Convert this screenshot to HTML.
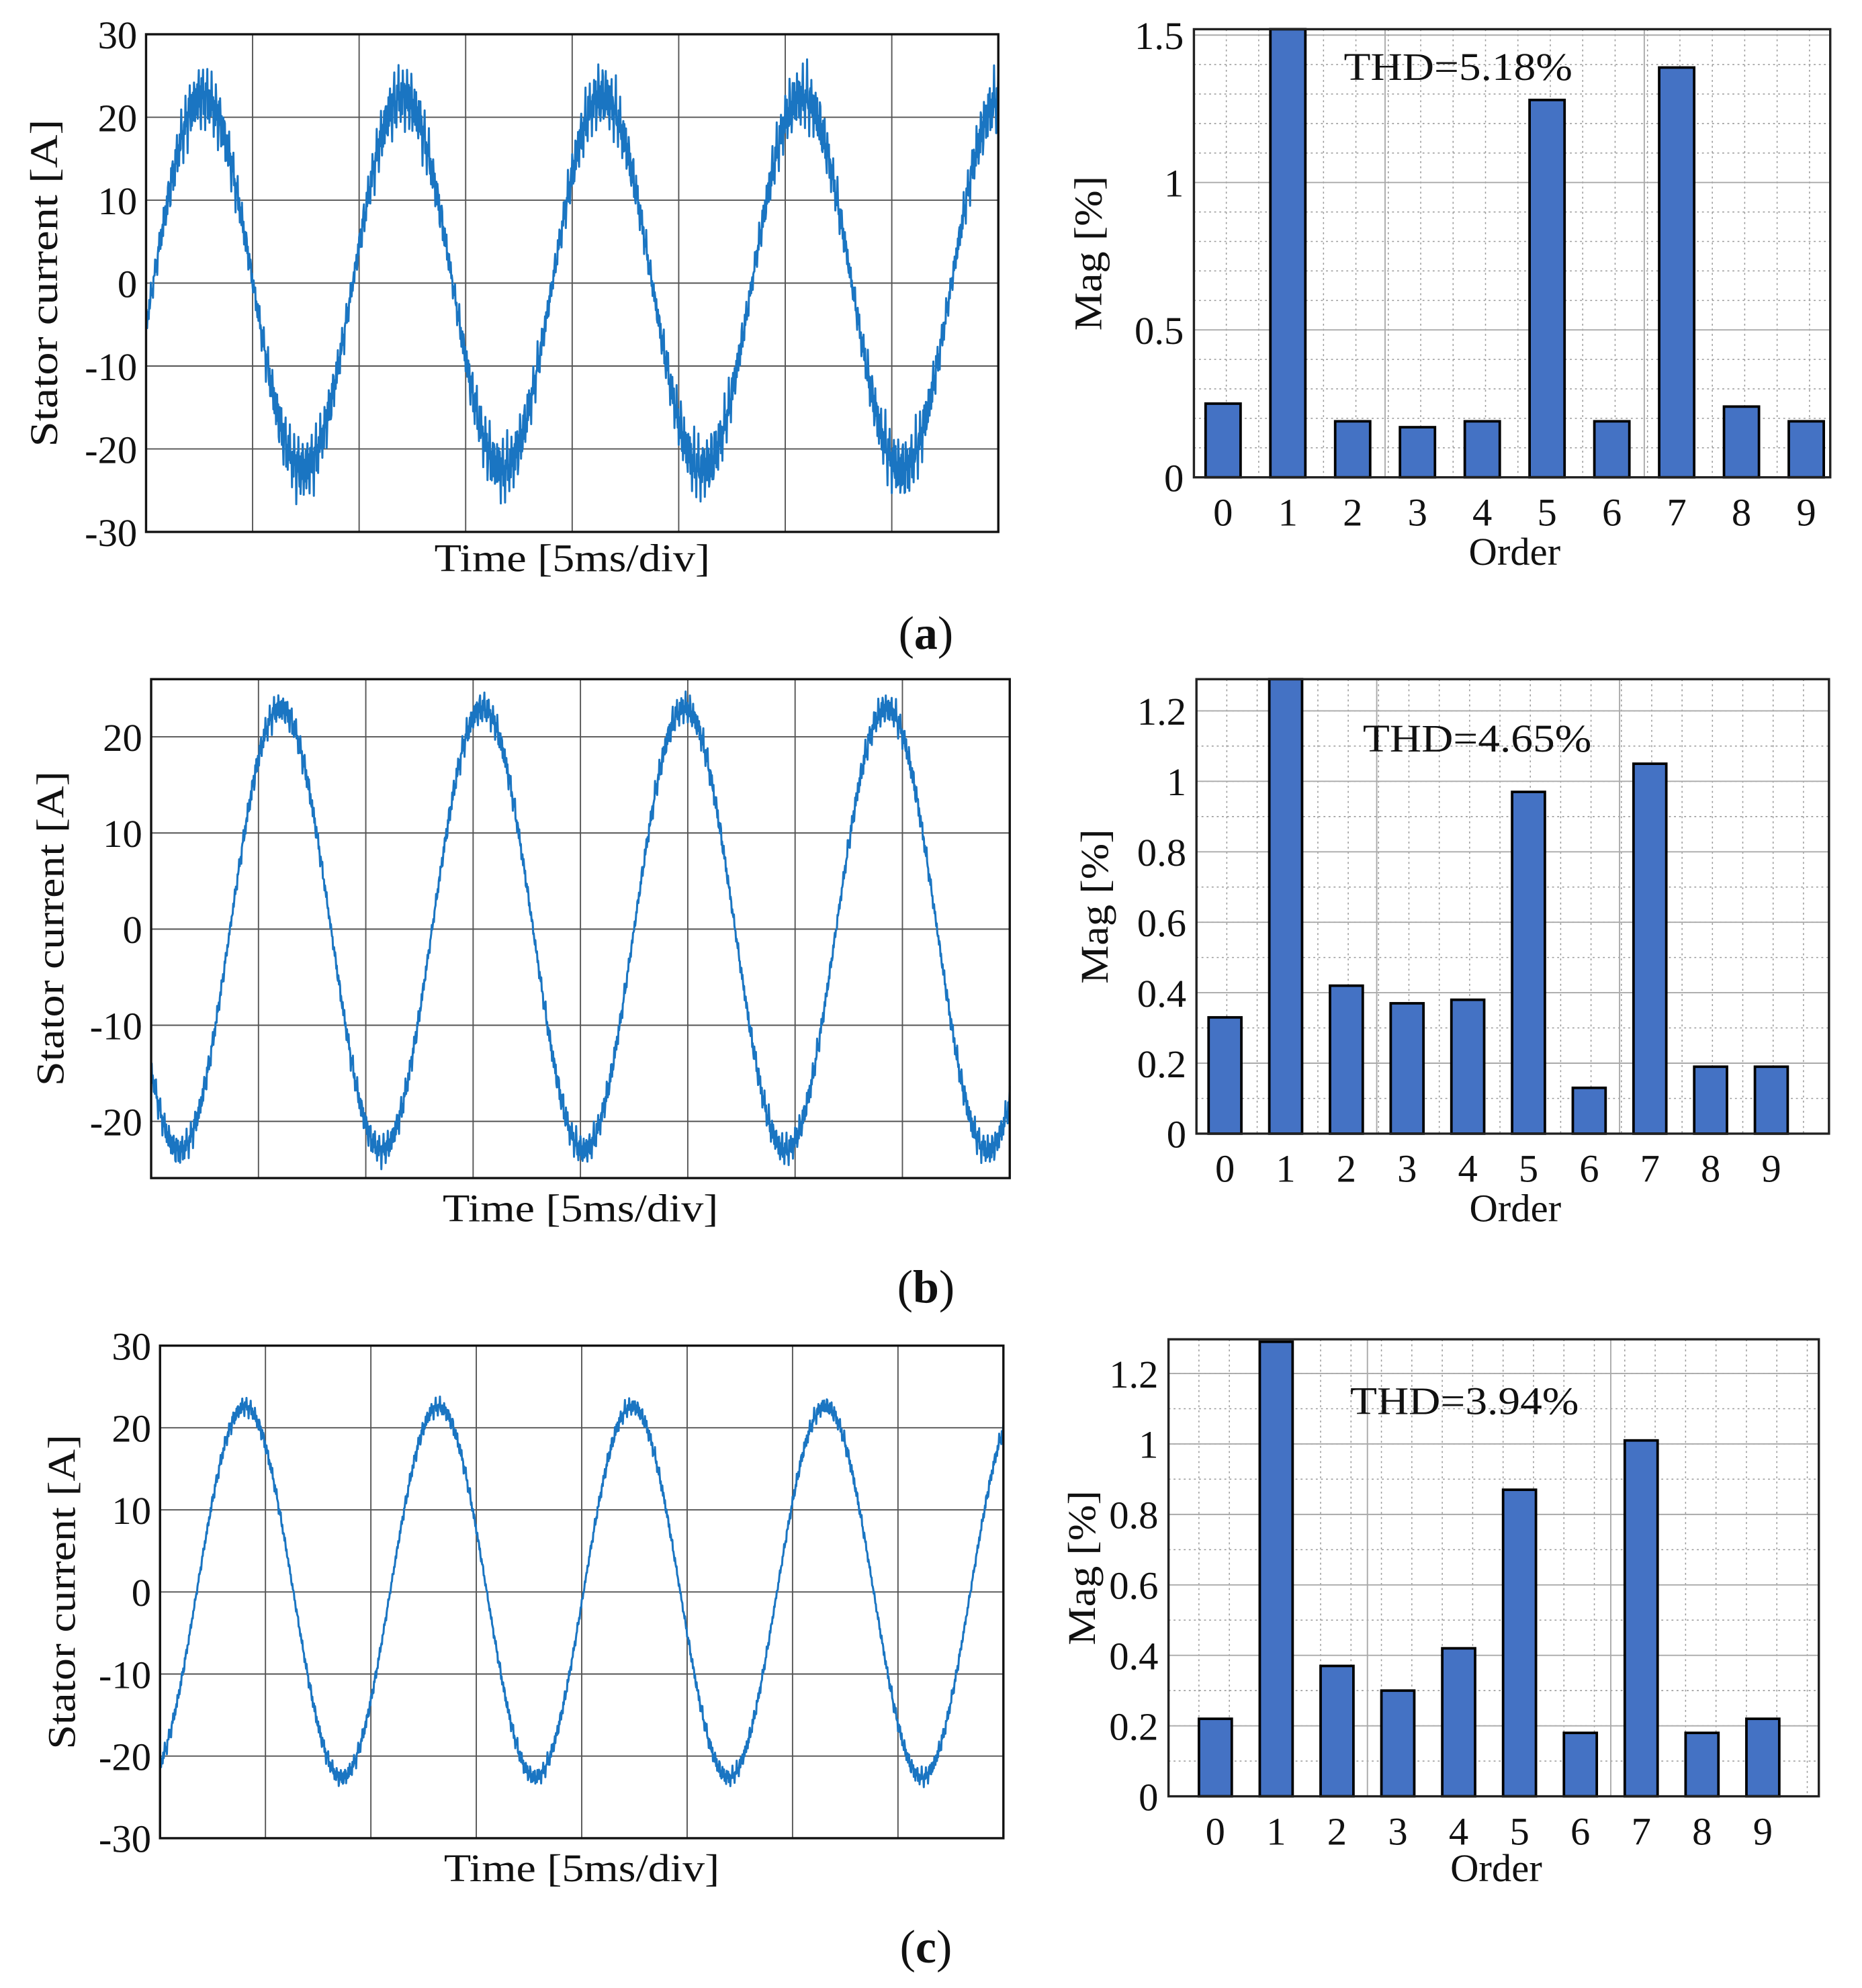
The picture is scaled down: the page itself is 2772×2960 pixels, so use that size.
<!DOCTYPE html>
<html><head><meta charset="utf-8"><style>
html,body{margin:0;padding:0;background:#fff}
svg{display:block}
text{font-family:"Liberation Serif",serif;fill:#111}
</style></head><body>
<svg id="fig" xmlns="http://www.w3.org/2000/svg" width="2772" height="2960" viewBox="0 0 1466 1566" preserveAspectRatio="none"></svg>
<script>
// ---- data ----
const harmonicOrders = [0,1,2,3,4,5,6,7,8,9];
const magA = [0.25,1.52,0.19,0.17,0.19,1.28,0.19,1.39,0.24,0.19];
const magB = [0.33,1.29,0.42,0.37,0.38,0.97,0.13,1.05,0.19,0.19];
const magC = [0.22,1.29,0.37,0.30,0.42,0.87,0.18,1.01,0.18,0.22];
const thdLabels = ["THD=5.18%","THD=4.65%","THD=3.94%"];
const magTicksA = [0,0.5,1,1.5];
const magTickLabelsA = ["0","0.5","1","1.5"];
const magTicksBC = [0,0.2,0.4,0.6,0.8,1,1.2];
const magTickLabelsBC = ["0","0.2","0.4","0.6","0.8","1","1.2"];
const curTicksA = [-30,-20,-10,0,10,20,30];
const curTicksB = [-20,-10,0,10,20];
const curTicksC = [-30,-20,-10,0,10,20,30];
// waveform parameters: [amplitude A, cycles in window, start phase rad, ripple A]
const waveA = [22.5, 4.27, -0.224, 4.6];
const waveB = [23.0, 4.25, 3.83, 1.9];
const waveC = [22.6, 4.36, -1.19, 1.3];

const svg = document.getElementById('fig');
const NS = 'http://www.w3.org/2000/svg';
function mk(tag, attrs, parent){
  const e = document.createElementNS(NS, tag);
  for (const k in attrs) e.setAttribute(k, attrs[k]);
  (parent||svg).appendChild(e);
  return e;
}
function txt(s, x, y, size, anchor, parent, extra){
  const t = mk('text', Object.assign({x:x, y:y, 'font-size':size, 'text-anchor':anchor||'middle'}, extra||{}), parent);
  t.textContent = s;
  return t;
}

function wavePanel(id, box, ymin, ymax, ticks, wave, xlabelY, ylabelX, ylen){
  const g = mk('g', {});
  
  
  const [x0,y0,x1,y1] = box;
  const ys = v => y1 - (v - ymin)/(ymax - ymin)*(y1 - y0);
  for (let i=1;i<8;i++){
    const x = x0 + (x1-x0)*i/8;
    const l = mk('line', {x1:x, x2:x, y1:y0, y2:y1, stroke:'#555', 'stroke-width':1}, g);
    
    
  }
  ticks.forEach(v=>{
    const y = ys(v);
    if (y > y0+1 && y < y1-1){
      const l = mk('line', {x1:x0, x2:x1, y1:y, y2:y, stroke:'#555', 'stroke-width':1}, g);
      
      
    }
    const t = txt(String(v), x0-7, y+11, 31, 'end', g);
    
    
  });
  const [A, cyc, ph, rip] = wave;
  const N = 1600;
  let d = '';
  for (let i=0;i<=N;i++){
    const f = i/N;
    const th = ph + 2*Math.PI*cyc*f;
    const s = Math.sin(th);
    const env = 0.35 + 0.65*Math.abs(s);
    const r = rip*env*(0.55*Math.sin(i*2.31) + 0.3*Math.sin(i*0.77+1.3) + 0.25*Math.sin(i*5.13+0.4)*Math.sin(i*0.173));
    let v = A*s + r;
    v = Math.max(ymin, Math.min(ymax, v));
    const x = x0 + f*(x1-x0);
    d += (i?'L':'M') + x.toFixed(2) + ' ' + ys(v).toFixed(2);
  }
  const p = mk('path', {d:d, fill:'none', stroke:'#1a75c2', 'stroke-width':1.6, 'stroke-linejoin':'round'}, g);
  
  
  const fr = mk('rect', {x:x0, y:y0, width:x1-x0, height:y1-y0, fill:'none', stroke:'#111', 'stroke-width':1.8}, g);
  
  
  const xl = txt('Time [5ms/div]', (x0+x1)/2, xlabelY, 31, 'middle', g, {textLength:217, lengthAdjust:'spacingAndGlyphs'});
  
  
  const cy = (y0+y1)/2;
  const yl = txt('Stator current [A]', ylabelX, cy, 31, 'middle', g, {transform:'rotate(-90 '+ylabelX+' '+cy+')', textLength:ylen, lengthAdjust:'spacingAndGlyphs'});
  
  
}

function barPanel(id, box, dom, ymax, ticks, tickLabels, minorStep, vals, thd, thdPos, orderY, magX){
  const g = mk('g', {});
  
  
  const [x0,y0,x1,y1] = box;
  const xs = c => x0 + (c - dom[0])/(dom[1]-dom[0])*(x1-x0);
  const ys = v => y1 - v/ymax*(y1-y0);
  const bw = (xs(1)-xs(0))*0.54;
  for (let v=minorStep; v<ymax-1e-6; v+=minorStep){
    const l = mk('line', {x1:x0, x2:x1, y1:ys(v), y2:ys(v), stroke:'#999', 'stroke-width':0.8, 'stroke-dasharray':'1.5 2.5'}, g);
    
    
  }
  for (let c=dom[0]+0.5; c<dom[1]; c+=0.5){
    const l = mk('line', {x1:xs(c), x2:xs(c), y1:y0, y2:y1, stroke:'#999', 'stroke-width':0.8, 'stroke-dasharray':'1.5 2.5'}, g);
    
    
  }
  [2.5,6.5].forEach(c=>{
    const l = mk('line', {x1:xs(c), x2:xs(c), y1:y0, y2:y1, stroke:'#aaa', 'stroke-width':1}, g);
    
    
  });
  ticks.forEach((v,i)=>{
    if (v>0){
      const l = mk('line', {x1:x0, x2:x1, y1:ys(v), y2:ys(v), stroke:'#aaa', 'stroke-width':1}, g);
      
      
    }
    const t = txt(tickLabels[i], x0-8, ys(v)+11, 31, 'end', g);
    
    
  });
  harmonicOrders.forEach((o,i)=>{
    const v = Math.min(vals[i], ymax);
    const r = mk('rect', {x:xs(o)-bw/2, y:ys(v), width:bw, height:y1-ys(v), fill:'#4472c4', stroke:'#000', 'stroke-width':2}, g);
    
    
    const t = txt(String(o), xs(o), y1+38, 31, 'middle', g);
    
    
  });
  const fr = mk('rect', {x:x0, y:y0, width:x1-x0, height:y1-y0, fill:'none', stroke:'#222', 'stroke-width':1.8}, g);
  
  
  const th = txt(thd, thdPos[0], thdPos[1], 31, 'start', g, {textLength:180, lengthAdjust:'spacingAndGlyphs'});
  
  
  const ol = txt('Order', (x0+x1)/2 + 2, orderY, 31, 'middle', g);
  
  
  const cy = (y0+y1)/2;
  const ml = txt('Mag [%]', magX, cy, 31, 'middle', g, {transform:'rotate(-90 '+magX+' '+cy+')', textLength:122, lengthAdjust:'spacingAndGlyphs'});
  
  
}

wavePanel('panel-a', [115,27,786,419], -30, 30, curTicksA, waveA, 450, 45, 258);
wavePanel('panel-b', [119,535,795,928], -25.9, 26.0, curTicksB, waveB, 962, 50, 248);
wavePanel('panel-c', [126,1060,790,1448], -30, 30, curTicksC, waveC, 1482, 59, 248);

barPanel('panel-a', [940,23,1441,376], [-0.45,9.37], 1.52, magTicksA, magTickLabelsA, 0.1, magA, thdLabels[0], [1058,63], 445, 867);
barPanel('panel-b', [942,535,1440,893], [-0.47,9.95], 1.29, magTicksBC, magTickLabelsBC, 0.1, magB, thdLabels[1], [1073,592], 962, 872);
barPanel('panel-c', [920,1055,1432,1415], [-0.77,9.92], 1.297, magTicksBC, magTickLabelsBC, 0.1, magC, thdLabels[2], [1063,1114], 1482, 862);

[['(a)',505,'caption-a'],['(b)',1020,'caption-b'],['(c)',1540,'caption-c']].forEach(c=>{
  const t = mk('text', {x:729, y:c[1]+6, 'font-size':37, 'text-anchor':'middle'});
  
  
  const s1 = mk('tspan', {}, t); s1.textContent = '(';
  const s2 = mk('tspan', {'font-weight':'bold'}, t); s2.textContent = c[0][1];
  const s3 = mk('tspan', {}, t); s3.textContent = ')';
});
</script>
</body></html>
